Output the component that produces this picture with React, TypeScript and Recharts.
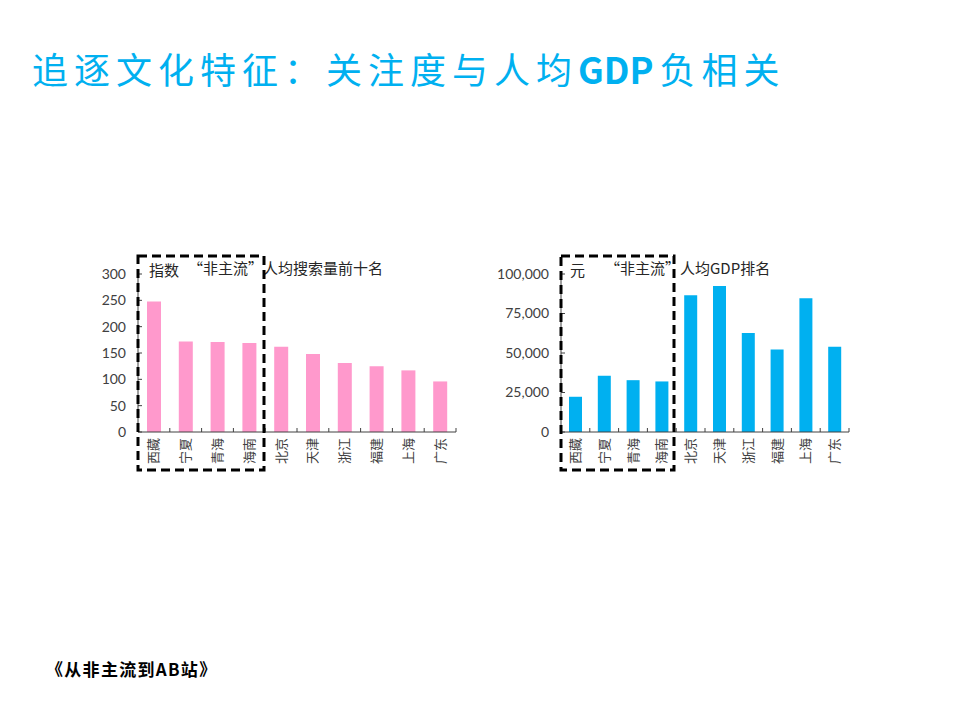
import React from "react";
import { BarChart, Bar, XAxis, YAxis } from "recharts";

const provinces = ["西藏", "宁夏", "青海", "海南", "北京", "天津", "浙江", "福建", "上海", "广东"];
const searchIndex = [248, 172, 171, 169, 162, 148, 131, 125, 117, 96];
const gdpPerCapita = [22300, 35600, 32800, 32000, 86500, 92400, 62700, 52200, 84600, 53900];
const searchTicks = [0, 50, 100, 150, 200, 250, 300];
const gdpTicks = [0, 25000, 50000, 75000, 100000];

const searchData = provinces.map((name, i) => ({ name, value: searchIndex[i] }));
const gdpData = provinces.map((name, i) => ({ name, value: gdpPerCapita[i] }));

const TICK_FONT = "Lato, 'DejaVu Sans', sans-serif";
const CJK = "'Noto Sans CJK SC', sans-serif";
const AXIS = "#404040";

const XTick = (props: any) => {
  const { x, y, payload, index, visibleTicksCount } = props;
  const off = payload.offset || 0;
  const axisY = y - 6;
  return (
    <g>
      <line x1={x - off} x2={x - off} y1={axisY} y2={axisY - 4} stroke={AXIS} />
      {index === visibleTicksCount - 1 && (
        <line x1={x + off} x2={x + off} y1={axisY} y2={axisY - 4} stroke={AXIS} />
      )}
      <text
        x={x}
        y={y}
        transform={`rotate(-90, ${x}, ${y})`}
        textAnchor="end"
        dy="0.35em"
        fontSize={13}
        fill="#404040"
        fontFamily={CJK}
      >
        {payload.value}
      </text>
    </g>
  );
};

const YTick = (props: any) => {
  const { x, y, payload, fmt } = props;
  return (
    <g>
      <line x1={x + 12} x2={x + 16} y1={y} y2={y} stroke={AXIS} />
      <text x={x} y={y} dy="0.35em" textAnchor="end" fontSize={14} fill="#404040" fontFamily={TICK_FONT}>
        {fmt ? fmt(payload.value) : payload.value}
      </text>
    </g>
  );
};

const fmtThousands = (v: number) => v.toLocaleString("en-US");

const note: React.CSSProperties = {
  position: "absolute",
  fontFamily: CJK,
  fontSize: 15,
  color: "#262626",
  whiteSpace: "nowrap",
  lineHeight: "18px",
};

const App = () => {
  return (
    <div style={{ position: "absolute", left: 0, top: 0, width: 960, height: 720, background: "#fff", overflow: "hidden" }}>
      <div
        style={{
          position: "absolute",
          left: 32,
          top: 44,
          fontFamily: CJK,
          fontSize: 36,
          letterSpacing: 6,
          color: "#00B0F0",
          whiteSpace: "nowrap",
          lineHeight: "48px",
        }}
      >
        追逐文化特征：关注度与人均
        <span style={{ fontWeight: 700, letterSpacing: 0, marginRight: 6 }}>GDP</span>
        负相关
      </div>

      <div style={{ position: "absolute", left: 60, top: 250 }}>
        <BarChart width={420} height={230} data={searchData} margin={{ top: 24, right: 24, bottom: 8, left: 0 }}>
          <XAxis
            dataKey="name"
            interval={0}
            axisLine={{ stroke: AXIS }}
            tickLine={false}
            tickSize={0}
            tickMargin={6}
            height={40}
            tick={<XTick />}
          />
          <YAxis
            domain={[0, 300]}
            ticks={searchTicks}
            width={78}
            axisLine={{ stroke: AXIS }}
            tickLine={false}
            tickSize={0}
            tickMargin={12}
            tick={<YTick />}
          />
          <Bar dataKey="value" fill="#FF99CC" barSize={14} isAnimationActive={false} />
        </BarChart>
      </div>

      <div style={{ position: "absolute", left: 480, top: 250 }}>
        <BarChart width={400} height={230} data={gdpData} margin={{ top: 24, right: 31, bottom: 8, left: 0 }}>
          <XAxis
            dataKey="name"
            interval={0}
            axisLine={{ stroke: AXIS }}
            tickLine={false}
            tickSize={0}
            tickMargin={6}
            height={40}
            tick={<XTick />}
          />
          <YAxis
            domain={[0, 100000]}
            ticks={gdpTicks}
            width={81}
            axisLine={{ stroke: AXIS }}
            tickLine={false}
            tickSize={0}
            tickMargin={12}
            tick={<YTick fmt={fmtThousands} />}
          />
          <Bar dataKey="value" fill="#00B0F0" barSize={13} isAnimationActive={false} />
        </BarChart>
      </div>

      <div style={{ ...note, left: 149, top: 261 }}>指数</div>
      <div style={{ ...note, left: 188, top: 259 }}>“非主流”人均搜索量前十名</div>
      <div style={{ ...note, left: 570, top: 261 }}>元</div>
      <div style={{ ...note, left: 605, top: 259 }}>“非主流”人均GDP排名</div>

      <svg width={960} height={720} style={{ position: "absolute", left: 0, top: 0, pointerEvents: "none" }}>
        <rect x={138} y={256} width={126} height={214} fill="none" stroke="#000" strokeWidth={3} strokeDasharray="9 5" />
        <rect x={561} y={256} width={113} height={214} fill="none" stroke="#000" strokeWidth={3} strokeDasharray="9 5" />
      </svg>

      <div
        style={{
          position: "absolute",
          left: 46,
          top: 656,
          fontFamily: CJK,
          fontSize: 17,
          letterSpacing: 1.3,
          fontWeight: 700,
          color: "#000",
          whiteSpace: "nowrap",
        }}
      >
        《从非主流到AB站》
      </div>
    </div>
  );
};

export default App;
